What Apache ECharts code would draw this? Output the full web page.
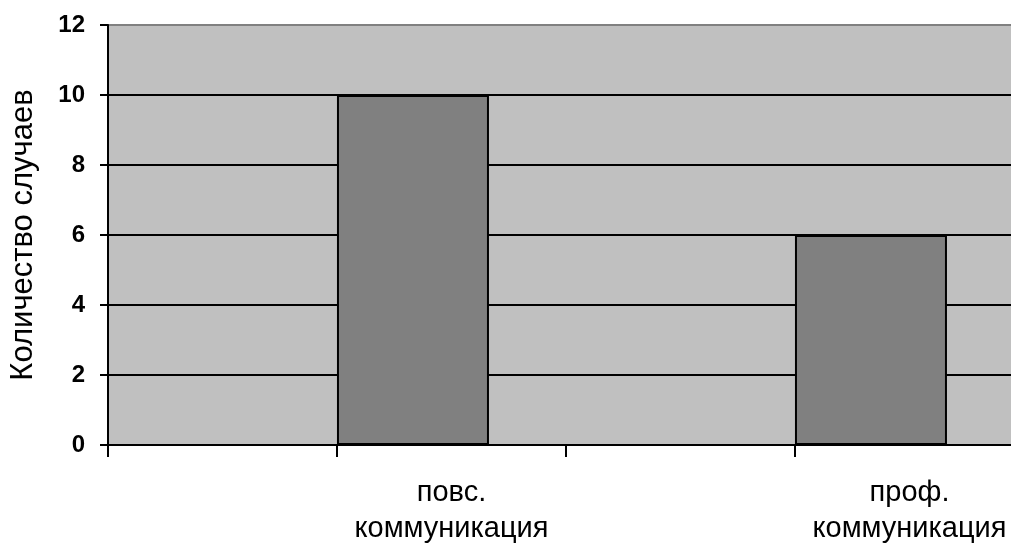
<!DOCTYPE html>
<html>
<head>
<meta charset="utf-8">
<script src="https://cdn.jsdelivr.net/npm/echarts@6/dist/echarts.min.js"></script>
<style>
html,body{margin:0;padding:0;background:#fff;}
#chart{width:1011px;height:545px;}
</style>
</head>
<body>
<div id="chart"></div>
<script>
// Categories along the x axis (blank slots keep the spacing of the original layout)
var categories = ['', 'повс.\nкоммуникация', '', 'проф.\nкоммуникация'];
// Number of cases per category
var caseCounts = [null, 10, null, 6];
// Companion series with no values (shares the slot, so bars sit on the left half)
var emptySeries = [null, null, null, null];
// Y-axis range
var yMin = 0, yMax = 12, yStep = 2;

var FONT = 'Liberation Sans, Arial, sans-serif';

var chart = echarts.init(document.getElementById('chart'), null, {renderer: 'canvas'});
chart.setOption({
  animation: false,
  backgroundColor: '#ffffff',
  grid: {
    left: 108, top: 25, right: -13, bottom: 100,
    outerBoundsMode: 'none',
    containLabel: false,
    show: true, backgroundColor: '#c0c0c0',
    borderWidth: 2, borderColor: '#808080'
  },
  xAxis: {
    type: 'category',
    data: categories,
    boundaryGap: true,
    axisLine: {show: true, lineStyle: {color: '#000', width: 2}},
    axisTick: {show: true, alignWithLabel: false, length: 12, lineStyle: {color: '#000', width: 2}},
    axisLabel: {
      color: '#000', fontFamily: FONT,
      fontSize: 29, lineHeight: 36, margin: 30, interval: 0
    },
    splitLine: {show: false}
  },
  yAxis: {
    type: 'value',
    min: yMin, max: yMax, interval: yStep,
    name: 'Количество случаев',
    nameLocation: 'middle',
    nameGap: 69,
    nameTextStyle: {color: '#000', fontFamily: FONT, fontSize: 31},
    axisLine: {show: true, lineStyle: {color: '#000', width: 2}},
    axisTick: {show: true, length: 8, lineStyle: {color: '#000', width: 2}},
    axisLabel: {
      color: '#000', fontFamily: FONT,
      fontSize: 24, fontWeight: 'bold', margin: 23
    },
    splitLine: {
      show: true,
      lineStyle: {color: ['#000', '#000', '#000', '#000', '#000', '#000', '#808080'], width: 2}
    }
  },
  series: [
    {
      type: 'bar',
      data: caseCounts,
      barWidth: 152,
      barGap: '-49.3%',
      itemStyle: {color: '#808080', borderColor: '#000', borderWidth: 2}
    },
    {
      type: 'bar',
      data: emptySeries,
      barWidth: 152,
      barGap: '-49.3%',
      itemStyle: {color: '#808080', borderColor: '#000', borderWidth: 2}
    }
  ]
});
</script>
</body>
</html>
